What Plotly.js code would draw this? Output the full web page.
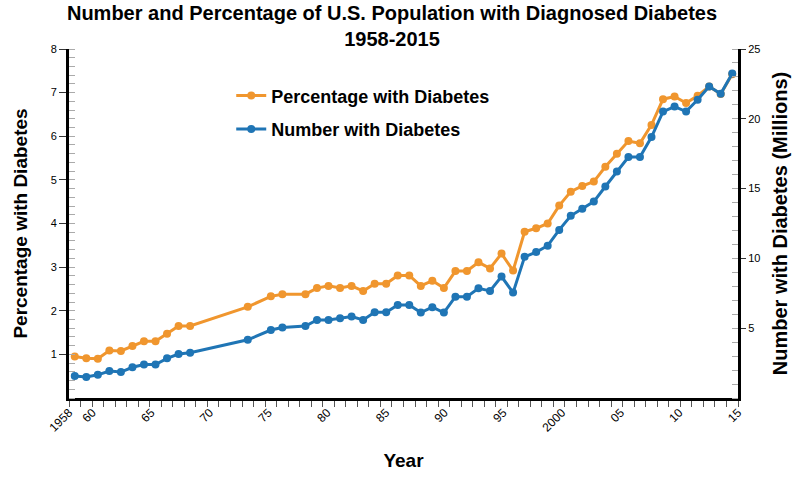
<!DOCTYPE html>
<html><head><meta charset="utf-8">
<script src="https://cdn.plot.ly/plotly-3.0.1.min.js"></script>
<style>html,body{margin:0;padding:0;background:#fff}#chart{width:800px;height:480px}</style>
</head><body><div id="chart"></div>
<script>
const years = [1958,1959,1960,1961,1962,1963,1964,1965,1966,1967,1968,1973,1975,1976,
  1978,1979,1980,1981,1982,1983,1984,1985,1986,1987,1988,1989,1990,1991,1992,1993,1994,
  1995,1996,1997,1998,1999,2000,2001,2002,2003,2004,2005,2006,2007,2008,2009,2010,2011,
  2012,2013,2014,2015];
const percentWithDiabetes = [0.95,0.91,0.90,1.09,1.08,1.19,1.30,1.30,1.47,1.65,1.65,2.09,2.33,2.38,
  2.38,2.52,2.57,2.52,2.57,2.45,2.62,2.62,2.81,2.81,2.57,2.69,2.52,2.91,2.91,3.11,2.97,
  3.31,2.92,3.81,3.89,4.00,4.41,4.73,4.86,4.96,5.30,5.60,5.89,5.84,6.26,6.85,6.91,6.76,
  6.93,7.14,6.97,7.42];
const numberWithDiabetes = [1.58,1.50,1.66,1.93,1.86,2.20,2.40,2.40,2.84,3.15,3.24,4.17,4.87,5.05,
  5.16,5.59,5.59,5.71,5.83,5.59,6.14,6.14,6.67,6.67,6.12,6.50,6.12,7.26,7.26,7.86,7.67,
  8.70,7.55,10.11,10.45,10.91,12.04,13.05,13.55,14.07,15.15,16.22,17.26,17.26,18.69,20.52,20.88,20.52,
  21.36,22.32,21.79,23.25];
const tickYears = [1958,1960,1965,1970,1975,1980,1985,1990,1995,2000,2005,2010,2015];
const tickText = ['1958','60','65','70','75','80','85','90','95','2000','05','10','15'];
const leftTicks = [1,2,3,4,5,6,7,8];
const rightTicks = [5,10,15,20,25];

const x0 = 1957.5, x1 = 2015.5;
const tickPos = tickYears.map(y => x0 + (y - 1958) * (x1 - x0) / (2015 - 1958));

const ORANGE = '#F0962E', BLUE = '#1F75B5';
const FONT = 'Liberation Sans, Arial, Helvetica, sans-serif';

const traces = [
  {x: years, y: percentWithDiabetes, name: 'Percentage with Diabetes', type: 'scatter', mode: 'lines+markers',
   line: {color: ORANGE, width: 3}, marker: {color: ORANGE, size: 8}, yaxis: 'y', legendgroup: 'a'},
  {x: years, y: numberWithDiabetes, name: 'Number with Diabetes', type: 'scatter', mode: 'lines+markers',
   line: {color: BLUE, width: 3}, marker: {color: BLUE, size: 8}, yaxis: 'y2', legendgroup: 'b'}
];

const layout = {
  width: 800, height: 480,
  margin: {l: 69, r: 62, t: 49, b: 82, pad: 0},
  paper_bgcolor: '#fff', plot_bgcolor: '#fff',
  font: {family: FONT, color: '#000', size: 11},
  title: {text: 'Number and Percentage of U.S. Population with Diagnosed Diabetes<br>1958-2015',
    font: {family: FONT, size: 20, weight: 'bold', color: '#000'},
    x: 0.49, xanchor: 'center', y: 0.958, yanchor: 'middle'},
  showlegend: true,
  legend: {x: 0.2425, y: 0.9186, xanchor: 'left', yanchor: 'top', bgcolor: 'rgba(0,0,0,0)',
    font: {family: FONT, size: 18, weight: 'bold', color: '#000'},
    traceorder: 'grouped', tracegroupgap: 7},
  xaxis: {range: [x0, x1], tickmode: 'array', tickvals: tickPos, ticktext: tickText, tickangle: -45,
    ticks: '', showgrid: false, zeroline: false, showline: true, linecolor: '#000', linewidth: 3,
    tickfont: {size: 12, color: '#000'},
    minor: {tickmode: 'linear', tick0: x0, dtick: 1, ticks: 'outside', ticklen: 6, tickwidth: 1, tickcolor: '#555', showgrid: false},
    title: {text: 'Year', font: {family: FONT, size: 19, weight: 'bold', color: '#000'}, standoff: 21}},
  yaxis: {range: [0, 8], tickmode: 'array', tickvals: leftTicks, ticks: 'outside', ticklen: 7, tickwidth: 1, tickcolor: '#333',
    showgrid: false, zeroline: false, showline: true, linecolor: '#000', linewidth: 3,
    tickfont: {size: 11, color: '#000'},
    minor: {tickmode: 'linear', tick0: 0, dtick: 0.2, ticks: 'inside', ticklen: 6, tickwidth: 1, tickcolor: '#aaa', showgrid: false},
    title: {text: 'Percentage with Diabetes', font: {family: FONT, size: 19, weight: 'bold', color: '#000'}, standoff: 19}},
  yaxis2: {range: [0, 25], overlaying: 'y', side: 'right', tickmode: 'array', tickvals: rightTicks,
    ticks: 'outside', ticklen: 5, tickwidth: 1, tickcolor: '#333',
    showgrid: false, zeroline: false, showline: true, linecolor: '#000', linewidth: 3,
    tickfont: {size: 11, color: '#000'},
    minor: {tickmode: 'linear', tick0: 0, dtick: 1, ticks: 'inside', ticklen: 6, tickwidth: 1, tickcolor: '#aaa', showgrid: false},
    title: {text: 'Number with Diabetes (Millions)', font: {family: FONT, size: 20, weight: 'bold', color: '#000'}, standoff: 14}}
};

Plotly.newPlot('chart', traces, layout, {staticPlot: true, displayModeBar: false});
</script>
</body></html>
